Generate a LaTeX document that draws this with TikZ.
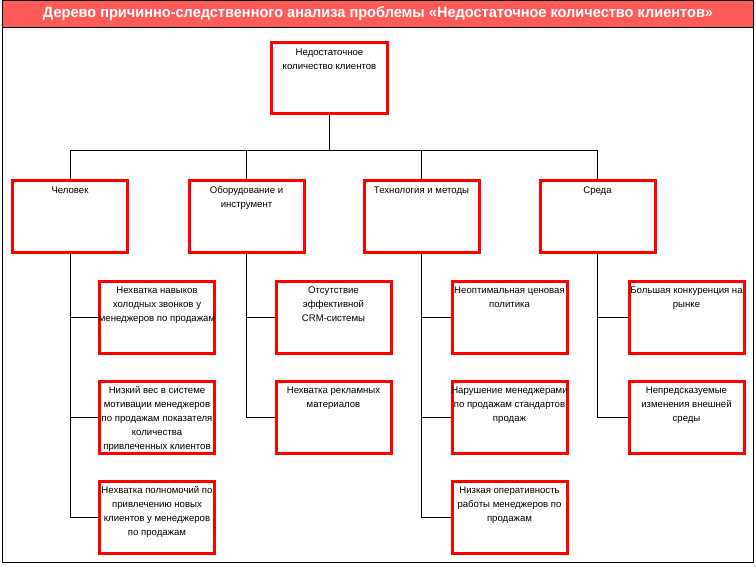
\documentclass[tikz,border=0pt]{standalone}
\usepackage{fontspec}
\setmainfont{Liberation Sans}
\newfontfamily\titlefont[FakeStretch=0.97]{Liberation Sans}
\definecolor{titlered}{HTML}{FF5A5A}
\definecolor{boxred}{HTML}{FF0000}
\tikzset{
  box/.style={draw=boxred, line width=3pt, minimum width=115pt, minimum height=72pt, inner sep=0pt, anchor=north west},
  txt/.style={anchor=north, align=center, inner sep=0pt, font=\fontsize{9.6pt}{14pt}\selectfont},
  conn/.style={draw=black, line width=1pt},
}
\begin{document}
\begin{tikzpicture}[x=1pt, y=-1pt]
\useasboundingbox (0,0) rectangle (756,566);
% frame and title
\fill[titlered] (2,0.5) rectangle (753,27);
\draw[line width=1pt] (2,27) -- (753,27);
\draw[line width=1pt] (2,0.5) rectangle (753,562);
\node[text=white, font=\titlefont\bfseries\fontsize{15pt}{17pt}\selectfont, inner sep=0pt] (title) at (378,14) {Дерево причинно-следственного анализа проблемы «Недостаточное количество клиентов»};

% root
\node[box, minimum width=116pt, minimum height=71pt] (root) at (270,41) {};
\node[txt] (roott) at ([yshift=-7.5pt]root.north) {Недостаточное\\количество клиентов};

% level 1
\node[box] (h1) at (11,179) {};
\node[box] (h2) at (187.5,179) {};
\node[box] (h3) at (362.5,179) {};
\node[box] (h4) at (538.5,179) {};
\node[txt] (h1t) at ([yshift=-7.5pt]h1.north) {Человек};
\node[txt] (h2t) at ([yshift=-7.5pt]h2.north) {Оборудование и\\инструмент};
\node[txt] (h3t) at ([yshift=-7.5pt]h3.north) {Технология и методы};
\node[txt] (h4t) at ([yshift=-7.5pt]h4.north) {Среда};

% level 2
\node[box] (c11) at (98,279.5) {};
\node[box] (c12) at (98,379.5) {};
\node[box] (c13) at (98,479.5) {};
\node[box] (c21) at (274.5,279.5) {};
\node[box] (c22) at (274.5,379.5) {};
\node[box] (c31) at (450.5,279.5) {};
\node[box] (c32) at (450.5,379.5) {};
\node[box] (c33) at (450.5,479.5) {};
\node[box] (c41) at (627.5,279.5) {};
\node[box] (c42) at (627.5,379.5) {};

\node[txt] (c11t) at ([yshift=-7pt]c11.north) {Нехватка навыков\\холодных звонков у\\менеджеров по продажам};
\node[txt] (c12t) at ([yshift=-7pt]c12.north) {Низкий вес в системе\\мотивации менеджеров\\по продажам показателя\\количества\\привлеченных клиентов};
\node[txt] (c13t) at ([yshift=-7pt]c13.north) {Нехватка полномочий по\\привлечению новых\\клиентов у менеджеров\\по продажам};
\node[txt] (c21t) at ([yshift=-7pt]c21.north) {Отсутствие\\эффективной\\CRM-системы};
\node[txt] (c22t) at ([yshift=-7pt]c22.north) {Нехватка рекламных\\материалов};
\node[txt] (c31t) at ([yshift=-7pt]c31.north) {Неоптимальная ценовая\\политика};
\node[txt] (c32t) at ([yshift=-7pt]c32.north) {Нарушение менеджерами\\по продажам стандартов\\продаж};
\node[txt] (c33t) at ([yshift=-7pt]c33.north) {Низкая оперативность\\работы менеджеров по\\продажам};
\node[txt] (c41t) at ([yshift=-7pt]c41.north) {Большая конкуренция на\\рынке};
\node[txt] (c42t) at ([yshift=-7pt]c42.north) {Непредсказуемые\\изменения внешней\\среды};

% connectors
\coordinate (bus) at (0,150);
\draw[conn] (root.south) -- (root.south |- bus);
\draw[conn] (h1.north) -- (h1.north |- bus) -- (h4.north |- bus) -- (h4.north);
\draw[conn] (h2.north) -- (h2.north |- bus);
\draw[conn] (h3.north) -- (h3.north |- bus);

\draw[conn] (h1.south) |- (c13.west);
\draw[conn] (h1.south |- c11.west) -- (c11.west);
\draw[conn] (h1.south |- c12.west) -- (c12.west);
\draw[conn] (h2.south) |- (c22.west);
\draw[conn] (h2.south |- c21.west) -- (c21.west);
\draw[conn] (h3.south) |- (c33.west);
\draw[conn] (h3.south |- c31.west) -- (c31.west);
\draw[conn] (h3.south |- c32.west) -- (c32.west);
\draw[conn] (h4.south) |- (c42.west);
\draw[conn] (h4.south |- c41.west) -- (c41.west);
\end{tikzpicture}
\end{document}
